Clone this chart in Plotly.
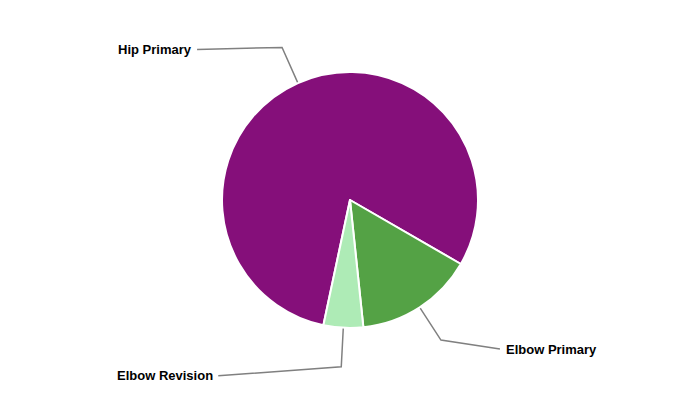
import math
import plotly.graph_objects as go

# ---- data ----
categories = ["Hip Primary", "Elbow Primary", "Elbow Revision"]
values = [80, 15, 5]
colors = ["#850F7A", "#54A245", "#AEEBB6"]

# ---- style / layout parameters ----
W, H = 700, 400
CX, CY, R = 350, 200, 128
ROTATION = 192          # start angle of first slice (deg, clockwise from 12 o'clock)
BEND = 39               # connector bend distance outside the pie
# label offset from bend point (dx, dy) in px
label_offsets = [(-85, 2), (59, 9), (-123, 9)]

fig = go.Figure()

fig.add_trace(go.Pie(
    labels=categories, values=values, sort=False, direction="clockwise",
    rotation=ROTATION, marker=dict(colors=colors, line=dict(color="white", width=2)),
    textinfo="none", hoverinfo="label+value", showlegend=False,
    domain=dict(x=[(CX - R) / W, (CX + R) / W], y=[1 - (CY + R) / H, 1 - (CY - R) / H]),
))

total = sum(values)
start = ROTATION
annotations = []
for cat, val, (odx, ody) in zip(categories, values, label_offsets):
    span = 360.0 * val / total
    mid = math.radians(start + span / 2)
    start += span
    sx, sy = math.sin(mid), -math.cos(mid)
    p0 = (CX + R * sx, CY + R * sy)
    p1 = (CX + (R + BEND) * sx, CY + (R + BEND) * sy)
    p2 = (p1[0] + odx, p1[1] + ody)
    fig.add_trace(go.Scatter(
        x=[p0[0], p1[0], p2[0]], y=[p0[1], p1[1], p2[1]], mode="lines",
        line=dict(color="#808080", width=1.5), hoverinfo="skip", showlegend=False,
    ))
    left = odx < 0
    annotations.append(dict(
        x=p2[0] + (-3 if left else 4), y=p2[1], xref="x", yref="y", text=f"<b>{cat}</b>",
        showarrow=False, xanchor="right" if left else "left", yanchor="middle",
        font=dict(family="Liberation Sans, Arial, sans-serif", size=13, color="#000000"),
    ))

fig.update_layout(
    width=W, height=H, margin=dict(l=0, r=0, t=0, b=0),
    paper_bgcolor="white", plot_bgcolor="rgba(0,0,0,0)",
    xaxis=dict(range=[0, W], visible=False, fixedrange=True, domain=[0, 1]),
    yaxis=dict(range=[H, 0], visible=False, fixedrange=True, domain=[0, 1]),
    annotations=annotations,
)

fig.write_html("out.html", config={"displayModeBar": False},
               post_script="document.body.style.margin='0';document.body.style.overflow='hidden';")
